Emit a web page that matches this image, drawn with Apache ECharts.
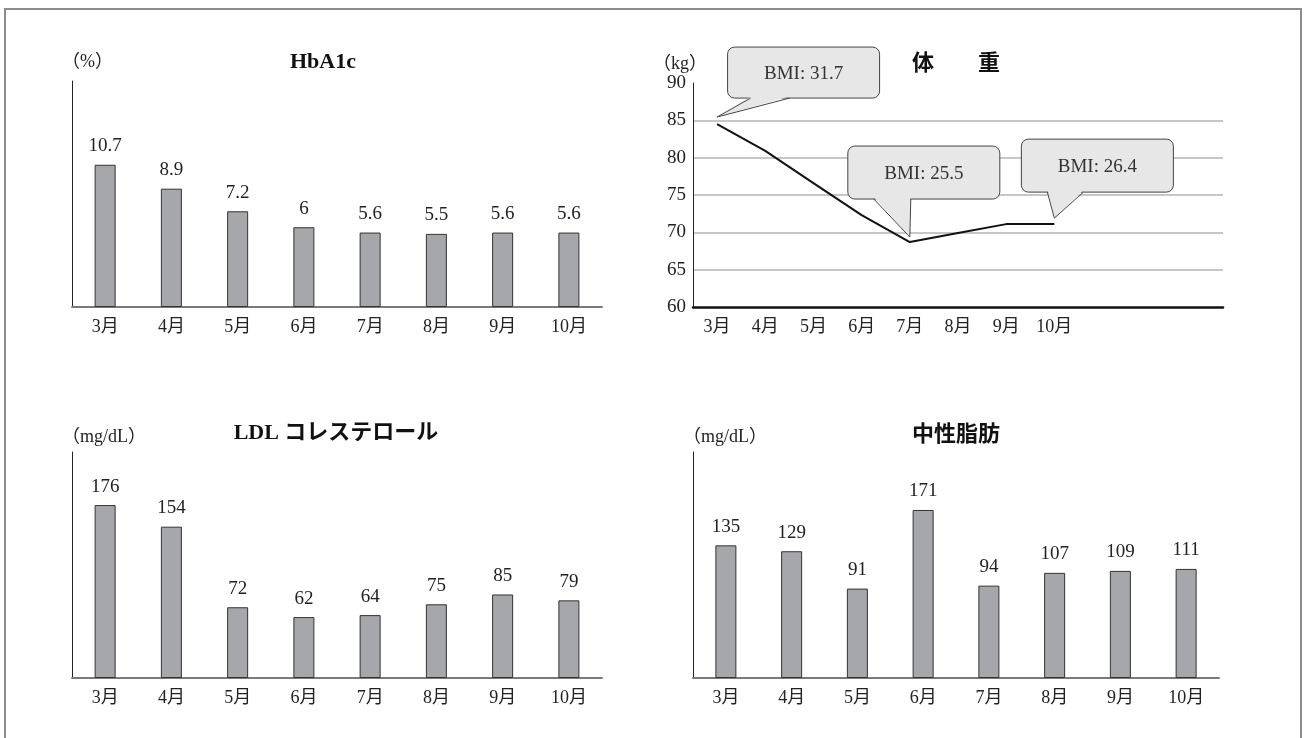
<!DOCTYPE html>
<html>
<head>
<meta charset="utf-8">
<script src="https://cdn.jsdelivr.net/npm/echarts@6/dist/echarts.min.js"></script>
<style>
html, body { margin: 0; padding: 0; background: #fff; }
#chart { width: 1304px; height: 738px; }
.frame {
	position: absolute; left: 4px; top: 8px; width: 1294px; height: 740px;
	border: 2px solid #8c8c8c; border-bottom: none; pointer-events: none;
}
</style>
</head>
<body>
<div id="chart"></div>
<div class="frame"></div>
<script>
// data
var months = ["3月", "4月", "5月", "6月", "7月", "8月", "9月", "10月"];
var weightMonths = months.concat(["", "", ""]); // axis runs on past October
var hba1c = [10.7, 8.9, 7.2, 6, 5.6, 5.5, 5.6, 5.6];
var weight = [84.5, 80.9, 76.6, 72.3, 68.7, 69.9, 71.1, 71.1];
var ldl = [176, 154, 72, 62, 64, 75, 85, 79];
var tg = [135, 129, 91, 171, 94, 107, 109, 111];
var bmiMonths = ["3月", "7月", "10月"];
var bmiValues = [31.7, 25.5, 26.4];

var SERIF = "'Liberation Serif', 'Noto Sans CJK JP', serif";
var GOTHIC = "'Noto Sans CJK JP', sans-serif";

var grids = [
	{ left: 72, top: 81, width: 530, height: 226 },
	{ left: 693, top: 83, width: 530, height: 224 },
	{ left: 72, top: 452, width: 530, height: 226 },
	{ left: 693, top: 452, width: 526, height: 226 },
];

function barXAxis(gridIndex) {
	return {
		type: "category",
		gridIndex: gridIndex,
		data: months,
		axisTick: { show: false },
		axisLine: { lineStyle: { color: "#7a7a7a", width: 2 } },
		axisLabel: { color: "#222", fontSize: 18, fontFamily: SERIF, margin: 11 },
	};
}

function barYAxis(gridIndex, max, unit, pad) {
	return {
		type: "value",
		gridIndex: gridIndex,
		min: 0,
		max: max,
		name: unit,
		nameLocation: "end",
		nameGap: pad,
		nameTextStyle: {
			align: "left", verticalAlign: "middle", padding: [0, 0, 0, -10],
			color: "#222", fontSize: 18, fontFamily: SERIF,
		},
		axisLine: { show: true, lineStyle: { color: "#222", width: 1 } },
		axisTick: { show: false },
		axisLabel: { show: false },
		splitLine: { show: false },
	};
}

function barSeries(idx, data) {
	return {
		type: "bar",
		xAxisIndex: idx,
		yAxisIndex: idx,
		data: data,
		barWidth: 21,
		itemStyle: { color: "#a6a7aa", borderColor: "#333", borderWidth: 1 },
		label: {
			show: true,
			position: "top",
			distance: 9,
			color: "#222",
			fontSize: 19,
			fontFamily: SERIF,
		},
	};
}

function title(text, x, y, family) {
	return {
		text: text,
		left: x,
		top: y,
		padding: 0,
		textAlign: "center",
		textVerticalAlign: "middle",
		textStyle: { color: "#111", fontSize: 22, fontWeight: "bold", fontFamily: family },
	};
}

var myChart = echarts.init(document.getElementById("chart"));
myChart.setOption({
	animation: false,
	title: [
		title("HbA1c", 323, 62, SERIF),
		title("体　　重", 956, 62, GOTHIC),
		title("LDL コレステロール", 336, 433, SERIF),
		title("中性脂肪", 956, 433, GOTHIC),
	],
	grid: grids,
	xAxis: [
		barXAxis(0),
		{
			type: "category",
			gridIndex: 1,
			data: weightMonths,
			axisTick: { show: false },
			axisLine: { lineStyle: { color: "#111", width: 2.5 } },
			axisLabel: { color: "#222", fontSize: 18, fontFamily: SERIF, margin: 11 },
		},
		barXAxis(2),
		barXAxis(3),
	],
	yAxis: [
		barYAxis(0, 17, "（%）", 19),
		{
			type: "value",
			gridIndex: 1,
			min: 60,
			max: 90,
			interval: 5,
			name: "（kg）",
			nameLocation: "end",
			nameGap: 19,
			nameTextStyle: {
				align: "right", verticalAlign: "middle", padding: [0, -14, 0, 0],
				color: "#222", fontSize: 18, fontFamily: SERIF,
			},
			axisLine: { show: true, lineStyle: { color: "#222", width: 1 } },
			axisTick: { show: false },
			axisLabel: { color: "#222", fontSize: 19, fontFamily: SERIF, margin: 7 },
			splitLine: {
				show: true,
				showMaxLine: false,
				showMinLine: false,
				lineStyle: { color: "#b4b4b4", width: 1.5 },
			},
		},
		barYAxis(2, 230, "（mg/dL）", 15),
		barYAxis(3, 230, "（mg/dL）", 15),
	],
	series: [
		barSeries(0, hba1c),
		{
			type: "line",
			xAxisIndex: 1,
			yAxisIndex: 1,
			data: weight,
			symbol: "none",
			lineStyle: { color: "#111", width: 2 },
			z: 3,
		},
		barSeries(2, ldl),
		barSeries(3, tg),
	],
});

// BMI speech bubbles, hung off the weight points
var bubbleLayout = [
	{ lift: 7, dx: 10.5, dy: -70, w: 152, h: 51, b1: 23, b2: 62 },
	{ lift: 5, dx: -62, dy: -91, w: 152, h: 53, b1: 26, b2: 63 },
	{ lift: 6, dx: -33, dy: -79, w: 152, h: 53, b1: 26, b2: 62 },
];

var BUBBLE_FILL = "#e7e7e8";
var BUBBLE_EDGE = "#444";

var bubbles = [];
bmiMonths.forEach(function (m, i) {
	var idx = months.indexOf(m);
	var p = myChart.convertToPixel({ gridIndex: 1 }, [idx, weight[idx]]);
	var lay = bubbleLayout[i];
	var tx = p[0], ty = p[1] - lay.lift;
	var bx = tx + lay.dx, by = ty + lay.dy;
	var baseY = by + lay.h;
	// box
	bubbles.push({
		type: "rect",
		z: 10,
		shape: { x: bx, y: by, width: lay.w, height: lay.h, r: 7 },
		style: { fill: BUBBLE_FILL, stroke: BUBBLE_EDGE, lineWidth: 1 },
	});
	// tail fill, pushed a little into the box to hide its bottom edge there
	bubbles.push({
		type: "polygon",
		z: 11,
		shape: { points: [[bx + lay.b1 + 0.5, baseY - 1.5], [bx + lay.b2 - 0.5, baseY - 1.5], [tx, ty]] },
		style: { fill: BUBBLE_FILL },
	});
	bubbles.push({
		type: "polyline",
		z: 12,
		shape: { points: [[bx + lay.b1, baseY], [tx, ty], [bx + lay.b2, baseY]] },
		style: { fill: null, stroke: BUBBLE_EDGE, lineWidth: 1 },
	});
	bubbles.push({
		type: "text",
		z: 13,
		style: {
			text: "BMI: " + bmiValues[i],
			x: bx + lay.w / 2,
			y: by + lay.h / 2 + 1,
			align: "center",
			verticalAlign: "middle",
			fill: "#333",
			fontSize: 19,
			fontFamily: SERIF,
		},
	});
});
myChart.setOption({ graphic: bubbles });
</script>
</body>
</html>
